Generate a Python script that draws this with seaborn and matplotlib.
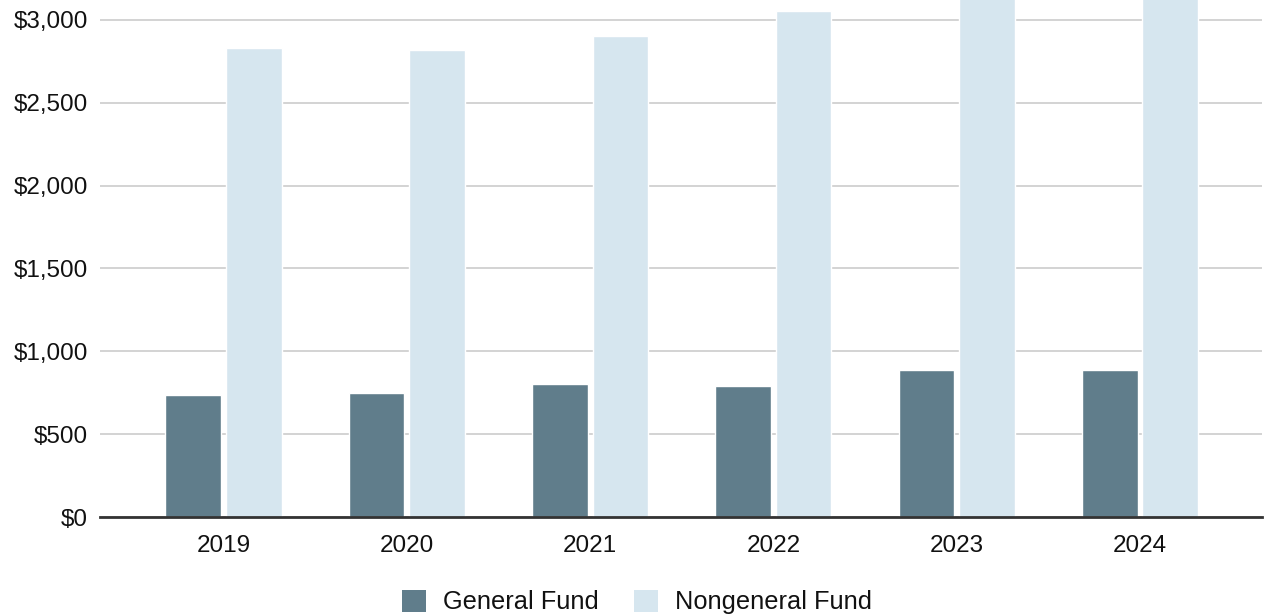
import matplotlib
matplotlib.use("Agg")
import matplotlib.pyplot as plt
from matplotlib.patches import Patch
from matplotlib.ticker import FuncFormatter
import seaborn as sns
import pandas as pd

years = ["2019", "2020", "2021", "2022", "2023", "2024"]
general_fund = [736, 748, 803, 791, 887, 887]
nongeneral_fund = [2831, 2819, 2903, 3054, 3280, 3350]
series_names = ["General Fund", "Nongeneral Fund"]
colors = ["#607d8b", "#d6e6ef"]
y_ticks = [0, 500, 1000, 1500, 2000, 2500, 3000]

df = pd.DataFrame({
    "Year": years * 2,
    "Value": general_fund + nongeneral_fund,
    "Fund": [series_names[0]] * len(years) + [series_names[1]] * len(years),
})

sns.set_theme(style="white")
plt.rcParams["font.family"] = ["Liberation Sans", "DejaVu Sans"]

fig = plt.figure(figsize=(12.65, 6.14), dpi=100)
ax = fig.add_axes([100 / 1265, 1 - 517 / 614, 1162 / 1265, 517 / 614])

sns.barplot(data=df, x="Year", y="Value", hue="Fund", order=years,
            hue_order=series_names, palette=colors, width=0.66, gap=0.08,
            saturation=1, ax=ax, legend=False, errorbar=None)

ax.set_xlim(-0.674, 5.666)
ax.set_ylim(0, 3120.7)
ax.set_yticks(y_ticks)
ax.yaxis.set_major_formatter(FuncFormatter(lambda v, p: f"${v:,.0f}"))
ax.grid(axis="y", color="#cccccc", linewidth=1.2)
ax.set_axisbelow(True)
for s in ["top", "right", "left"]:
    ax.spines[s].set_visible(False)
ax.spines["bottom"].set_color("#333333")
ax.spines["bottom"].set_linewidth(2)
ax.spines["bottom"].set_zorder(5)
ax.tick_params(axis="both", length=0, labelsize=17.5, colors="#111111")
ax.tick_params(axis="x", pad=13)
ax.tick_params(axis="y", pad=8.5)
ax.set_xlabel("")
ax.set_ylabel("")

handles = [Patch(facecolor=c, edgecolor="none") for c in colors]
fig.legend(handles, series_names, loc="center", bbox_to_anchor=(637 / 1265, 1 - 602 / 614),
           ncol=2, frameon=False, fontsize=18.3, handlelength=0.95, handleheight=0.95,
           handletextpad=0.7, columnspacing=1.35, labelcolor="#111111")

fig.savefig("out.png", dpi=100)
